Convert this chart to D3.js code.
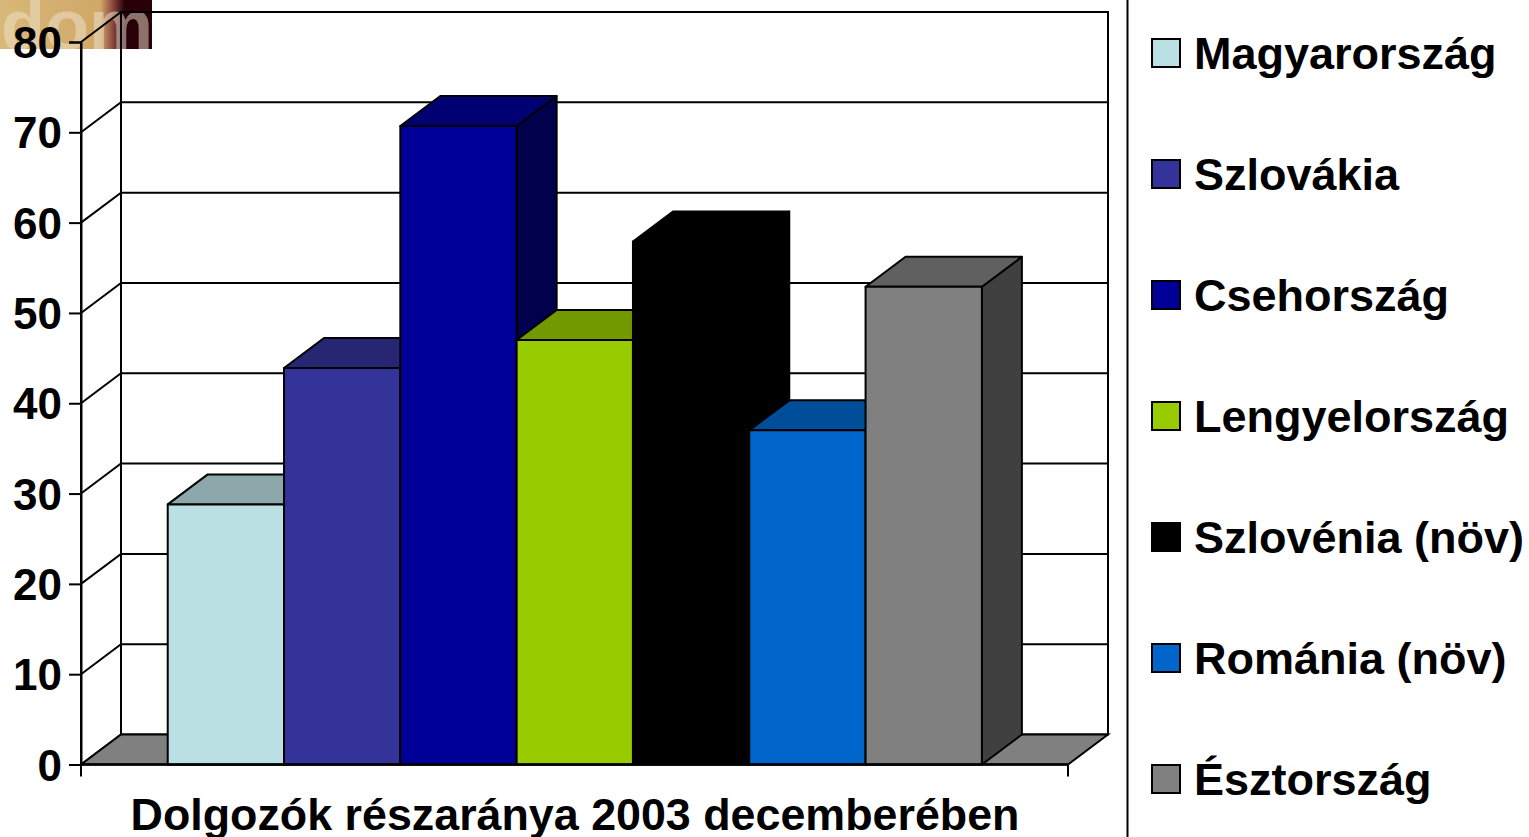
<!DOCTYPE html>
<html>
<head>
<meta charset="utf-8">
<script src="https://cdn.jsdelivr.net/npm/d3@7.9.0/dist/d3.min.js"></script>
<style>
    html, body { margin: 0; padding: 0; background: #fff; overflow: hidden; }
    text { font-family: "Liberation Sans", Arial, sans-serif; font-weight: bold; fill: #000; }
</style>
</head>
<body>
<svg id="chart" width="1529" height="837"></svg>
<script>
// ---------- DATA ----------

const countries = ["Magyarország", "Szlovákia", "Csehország", "Lengyelország", "Szlovénia (növ)", "Románia (növ)", "Észtország"];
const shares = [28.8, 43.9, 70.7, 47, 57.9, 37, 52.9];
const frontColors = ["#BBE0E3", "#333399", "#000099", "#99CC00", "#000000", "#0066CC", "#808080"];
const yTicks = [0, 10, 20, 30, 40, 50, 60, 70, 80];
const xTitle = "Dolgozók részaránya 2003 decemberében";

// ---------- LAYOUT ----------

const svg = d3.select("#chart");

const plotLeft = 81, plotRight = 1068, plotBottom = 764.5, plotTop = 42;
const depthX = 40, depthY = -30;

const y = d3.scaleLinear().domain([0, 80]).range([plotBottom, plotTop]);
const x = d3.scaleBand().domain(countries).range([plotLeft + 0.3, plotRight + 0.3]).paddingInner(0).paddingOuter(0.743);
const legendY = d3.scalePoint().domain(countries).range([53, 779]);

const poly = pts => "M" + pts.map(p => p.join(",")).join("L") + "Z";

// ---------- LOGO CORNER ----------

const defs = svg.append("defs");
const logoGrad = defs.append("linearGradient").attr("id", "logoGrad");
logoGrad.append("stop").attr("offset", "0").attr("stop-color", "#D8B878");
logoGrad.append("stop").attr("offset", "0.66").attr("stop-color", "#D0A868");
logoGrad.append("stop").attr("offset", "0.74").attr("stop-color", "#8A4A40");
logoGrad.append("stop").attr("offset", "0.82").attr("stop-color", "#2A0008");
logoGrad.append("stop").attr("offset", "1").attr("stop-color", "#2A0008");
defs.append("clipPath").attr("id", "logoClip")
    .append("rect").attr("width", 152).attr("height", 49);

const logo = svg.append("g").attr("clip-path", "url(#logoClip)");
logo.append("rect").attr("width", 152).attr("height", 49).attr("fill", "url(#logoGrad)");
logo.append("text")
    .attr("x", 1).attr("y", 50)
    .attr("font-size", 72)
    .style("fill", "#F0E4D0")
    .style("fill-opacity", 0.5)
    .text("dom");

// ---------- WALLS ----------

const frame = svg.append("g").attr("fill", "none").attr("stroke", "#000");

// back and side wall
frame.append("path")
    .attr("stroke-width", 2)
    .attr("d", poly([[plotLeft, plotTop], [plotLeft + depthX, plotTop + depthY], [plotRight + depthX, plotTop + depthY], [plotRight + depthX, plotBottom + depthY], [plotLeft + depthX, plotBottom + depthY], [plotLeft, plotBottom]]));
frame.append("line")
    .attr("stroke-width", 2)
    .attr("x1", plotLeft + depthX).attr("x2", plotLeft + depthX)
    .attr("y1", plotTop + depthY).attr("y2", plotBottom + depthY);

// gridlines
frame.selectAll(".grid")
    .data(yTicks.filter(d => d > 0 && d < 80))
    .join("path")
    .attr("class", "grid")
    .attr("stroke-width", 2)
    .attr("d", d => `M${plotLeft},${y(d)}L${plotLeft + depthX},${y(d) + depthY}L${plotRight + depthX},${y(d) + depthY}`);

// floor
svg.append("path")
    .attr("fill", "#808080")
    .attr("stroke", "#000")
    .attr("stroke-width", 2)
    .attr("d", poly([[plotLeft, plotBottom], [plotLeft + depthX, plotBottom + depthY], [plotRight + depthX, plotBottom + depthY], [plotRight, plotBottom]]));

// ---------- BARS ----------

const bars = svg.selectAll(".bar")
    .data(countries)
    .join("g")
    .attr("class", "bar")
    .attr("stroke", "#000")
    .attr("stroke-width", 2)
    .attr("stroke-linejoin", "round");

// side
bars.append("path")
    .attr("fill", (d, i) => {
        const c = d3.rgb(frontColors[i]);
        return d3.rgb(c.r * 0.5, c.g * 0.5, c.b * 0.5).formatHex();
    })
    .attr("d", (d, i) => {
        const r = x(d) + x.bandwidth();
        return poly([[r, y(shares[i])], [r + depthX, y(shares[i]) + depthY], [r + depthX, plotBottom + depthY], [r, plotBottom]]);
    });

// top
bars.append("path")
    .attr("fill", (d, i) => {
        const c = d3.rgb(frontColors[i]);
        return d3.rgb(c.r * 0.75, c.g * 0.75, c.b * 0.75).formatHex();
    })
    .attr("d", (d, i) => {
        const l = x(d), r = l + x.bandwidth(), t = y(shares[i]);
        return poly([[l, t], [l + depthX, t + depthY], [r + depthX, t + depthY], [r, t]]);
    });

// front
bars.append("rect")
    .attr("fill", (d, i) => frontColors[i])
    .attr("x", d => x(d))
    .attr("width", x.bandwidth())
    .attr("y", (d, i) => y(shares[i]))
    .attr("height", (d, i) => plotBottom - y(shares[i]));

// ---------- AXES ----------

const yAxis = svg.append("g")
    .attr("transform", `translate(${plotLeft},0)`)
    .call(d3.axisLeft(y).tickValues(yTicks).tickSize(12).tickPadding(7));
yAxis.selectAll("line").attr("stroke", "#000").attr("stroke-width", 2);
yAxis.select(".domain").attr("stroke", "#000").attr("stroke-width", 2);
yAxis.selectAll("text").attr("font-size", 44).attr("font-family", null).attr("y", 1.5);

const baseline = svg.append("g").attr("stroke", "#000").attr("stroke-width", 2.5);
baseline.append("line").attr("x1", plotLeft).attr("x2", plotRight).attr("y1", plotBottom).attr("y2", plotBottom);
baseline.selectAll(".xtick")
    .data([plotLeft, plotRight])
    .join("line")
    .attr("class", "xtick")
    .attr("stroke-width", 2)
    .attr("x1", d => d).attr("x2", d => d)
    .attr("y1", plotBottom).attr("y2", plotBottom + 12);

svg.append("text")
    .attr("x", 575).attr("y", 830)
    .attr("text-anchor", "middle")
    .attr("font-size", 44.8)
    .text(xTitle);

// ---------- LEGEND ----------

svg.append("line")
    .attr("x1", 1127.5).attr("x2", 1127.5)
    .attr("y1", 0).attr("y2", 837)
    .attr("stroke", "#000").attr("stroke-width", 2);

const legend = svg.selectAll(".legend")
    .data(countries)
    .join("g")
    .attr("class", "legend")
    .attr("transform", d => `translate(1152,${legendY(d)})`);

legend.append("rect")
    .attr("x", 0).attr("y", -14)
    .attr("width", 28).attr("height", 28)
    .attr("fill", (d, i) => frontColors[i])
    .attr("stroke", "#000")
    .attr("stroke-width", 2);

legend.append("text")
    .attr("x", 42).attr("y", 15.5)
    .attr("font-size", 45)
    .text(d => d);
</script>
</body>
</html>
